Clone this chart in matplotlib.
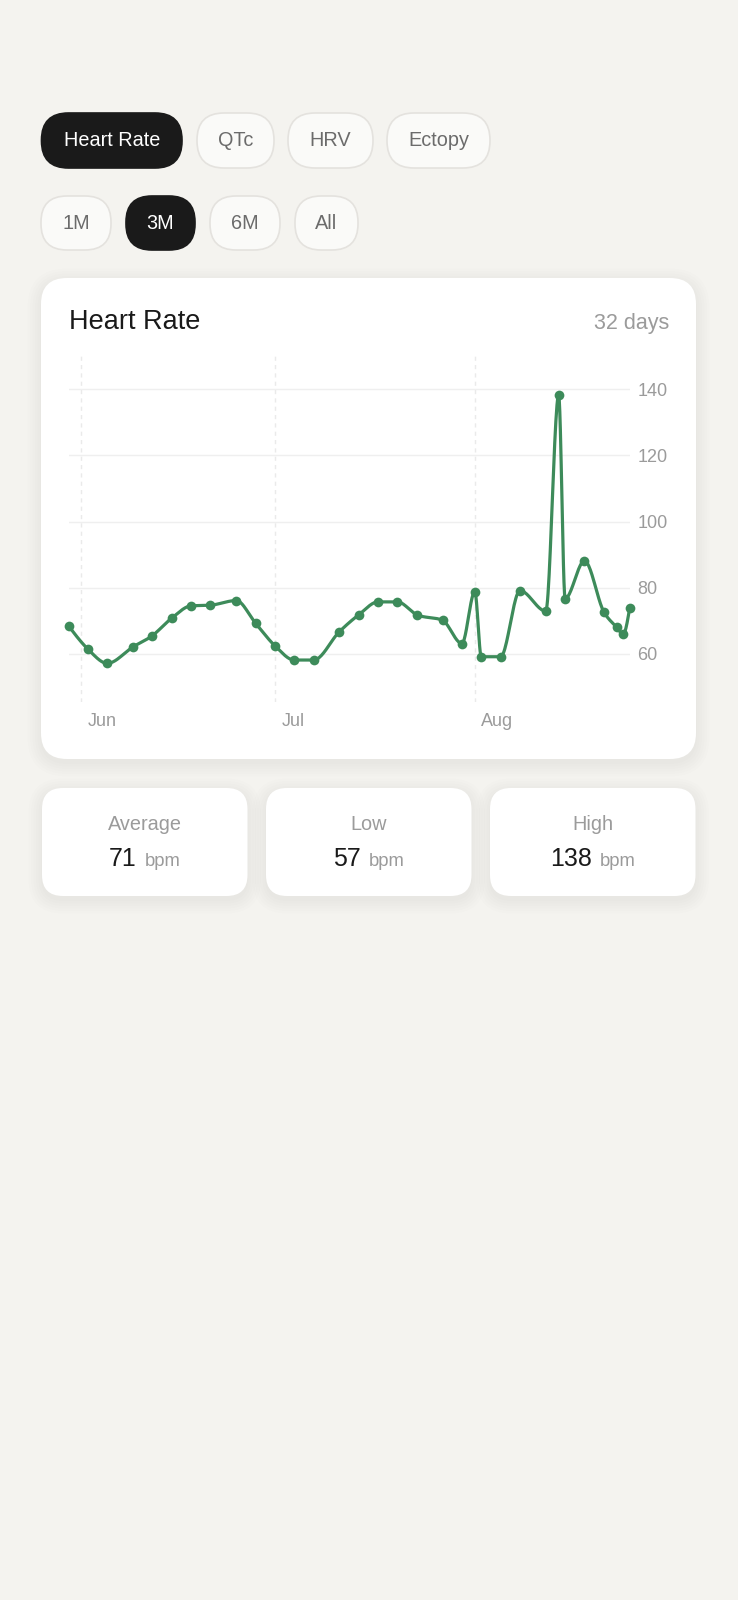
import numpy as np
import matplotlib
matplotlib.use("Agg")
import matplotlib.pyplot as plt
import matplotlib.dates as mdates
from matplotlib.patches import FancyBboxPatch

plt.rcParams['font.family'] = ['Liberation Sans', 'DejaVu Sans']

# data
dates = ["2024-05-30", "2024-06-02", "2024-06-05", "2024-06-09", "2024-06-12", "2024-06-15",
         "2024-06-18", "2024-06-21", "2024-06-25", "2024-06-28", "2024-07-01", "2024-07-04",
         "2024-07-07", "2024-07-11", "2024-07-14", "2024-07-17", "2024-07-20", "2024-07-23",
         "2024-07-27", "2024-07-30", "2024-08-01", "2024-08-02", "2024-08-05", "2024-08-08",
         "2024-08-12", "2024-08-14", "2024-08-15", "2024-08-18", "2024-08-21", "2024-08-23",
         "2024-08-24", "2024-08-25"]
heart_rate = [68.4, 61.4, 57.1, 62.1, 65.5, 70.8, 74.5, 74.7, 76.1, 69.2, 62.4, 58.1,
              58.1, 66.7, 71.8, 75.7, 75.7, 71.8, 70.1, 63.1, 78.8, 59.1, 59.1, 79.1,
              72.9, 138.3, 76.7, 88.1, 72.7, 68.0, 65.9, 73.7]
y_ticks = [60, 80, 100, 120, 140]
month_ticks = ["2024-06-01", "2024-07-01", "2024-08-01"]
month_labels = ["Jun", "Jul", "Aug"]
metric_tabs = ["Heart Rate", "QTc", "HRV", "Ectopy"]
range_tabs = ["1M", "3M", "6M", "All"]

BG = "#F4F3EF"
DARK = "#1A1A1A"
GREEN = "#3D8B5A"
GREY = "#9B9B9B"

W, H = 738, 1600
fig = plt.figure(figsize=(W / 100, H / 100), dpi=100, facecolor=BG)

# background axes in pixel coordinates
bg = fig.add_axes([0, 0, 1, 1])
bg.set_xlim(0, W)
bg.set_ylim(H, 0)
bg.axis("off")
bg.set_facecolor(BG)


def rbox(x0, y0, x1, y1, r, fc, ec="none", lw=0, z=1):
    p = FancyBboxPatch((x0, y0), x1 - x0, y1 - y0,
                       boxstyle="round,pad=0,rounding_size=%s" % r,
                       fc=fc, ec=ec, lw=lw, zorder=z)
    bg.add_patch(p)


def card(x0, y0, x1, y1, r):
    # soft shadow
    for i in range(6):
        e = 1 + 2.5 * i
        rbox(x0 - e, y0 - e + 4, x1 + e, y1 + e + 4, r + e, fc=(0, 0, 0, 0.006), z=1)
    rbox(x0, y0, x1, y1, r, fc="white", z=2)


# tab pills
tab_boxes = [(41.5, 182), (197, 274), (288, 373), (387, 490)]
for i, (name, (a, b)) in enumerate(zip(metric_tabs, tab_boxes)):
    active = i == 0
    rbox(a, 113, b, 168, 27, fc=DARK if active else "#FAFAF8",
         ec=DARK if active else "#E4E2DE", lw=1.2)
    bg.text((a + b) / 2, 141, name, ha="center", va="center", fontsize=14.3,
            color="white" if active else "#6B6B6B", zorder=5)

range_boxes = [(41, 111), (126, 195), (210, 280), (295, 358)]
for i, (name, (a, b)) in enumerate(zip(range_tabs, range_boxes)):
    active = i == 1
    rbox(a, 196, b, 250, 26, fc=DARK if active else "#FAFAF8",
         ec=DARK if active else "#E4E2DE", lw=1.2)
    bg.text((a + b) / 2, 223.5, name, ha="center", va="center", fontsize=14.3,
            color="white" if active else "#6B6B6B", zorder=5)

# chart card
card(41, 278, 696, 759, 26)
bg.text(69, 322, "Heart Rate", ha="left", va="center", fontsize=19.5, color=DARK, zorder=5)
bg.text(669, 324, "%d days" % len(heart_rate), ha="right", va="center", fontsize=15.5,
        color=GREY, zorder=5)

# chart axes
x = mdates.datestr2num(dates)
y = np.array(heart_rate)
ax_l, ax_r, ax_t, ax_b = 68.6, 629.6, 355, 702
ax = fig.add_axes([ax_l / W, 1 - ax_b / H, (ax_r - ax_l) / W, (ax_b - ax_t) / H])
ax.set_facecolor("none")
ax.set_xlim(x[0], x[-1])
ax.set_ylim(45.4, 150.4)
for s in ax.spines.values():
    s.set_visible(False)


def monotone_x(xs, ys, n=24):
    # d3 curveMonotoneX style cubic
    h = np.diff(xs)
    d = np.diff(ys) / h
    m = np.zeros(len(xs))
    for k in range(1, len(xs) - 1):
        s0, s1 = d[k - 1], d[k]
        p = (s0 * h[k] + s1 * h[k - 1]) / (h[k - 1] + h[k])
        m[k] = (np.sign(s0) + np.sign(s1)) * min(abs(s0), abs(s1), 0.5 * abs(p))
    m[0] = (3 * d[0] - m[1]) / 2
    m[-1] = (3 * d[-1] - m[-2]) / 2
    px, py = [], []
    for k in range(len(xs) - 1):
        t = np.linspace(0, 1, n)
        h00 = 2 * t**3 - 3 * t**2 + 1
        h10 = t**3 - 2 * t**2 + t
        h01 = -2 * t**3 + 3 * t**2
        h11 = t**3 - t**2
        px.append(xs[k] + t * h[k])
        py.append(h00 * ys[k] + h10 * h[k] * m[k] + h01 * ys[k + 1] + h11 * h[k] * m[k + 1])
    return np.concatenate(px), np.concatenate(py)


sx, sy = monotone_x(x, y)
ax.plot(sx, sy, color=GREEN, lw=2.3, solid_capstyle="round", solid_joinstyle="round",
        zorder=3, clip_on=False)
ax.plot(x, y, "o", color=GREEN, ms=7, mew=0, zorder=4, clip_on=False)

# grid
for v in y_ticks:
    ax.axhline(v, color="#EFEFEF", lw=1, zorder=1)
mt = mdates.datestr2num(month_ticks)
for m in mt:
    ax.axvline(m, color="#EAEAEA", lw=1, ls=(0, (3, 3)), zorder=1)

ax.yaxis.tick_right()
ax.set_yticks(y_ticks)
ax.set_yticklabels([str(v) for v in y_ticks])
ax.tick_params(axis="y", length=0, pad=5.5, labelsize=13, labelcolor=GREY)
ax.set_xticks([])
for m, lab in zip(mt, month_labels):
    ax.text(m + 1, -0.057, lab, transform=ax.get_xaxis_transform(), ha="left", va="center",
            fontsize=13, color=GREY)

# stat cards
stats = [("Average", round(float(np.mean(y)))), ("Low", round(float(np.min(y)))),
         ("High", round(float(np.max(y))))]
stat_boxes = [(42, 247.5), (266, 471.5), (490, 695.5)]
for (a, b) in stat_boxes:
    card(a, 788, b, 896, 21)

renderer = fig.canvas.get_renderer()
for (lab, val), (a, b) in zip(stats, stat_boxes):
    cx = (a + b) / 2
    bg.text(cx, 824, lab, ha="center", va="center", fontsize=14.3, color=GREY, zorder=5)
    t1 = bg.text(0, 866, str(val), ha="left", va="baseline", fontsize=18, color=DARK, zorder=5)
    t2 = bg.text(0, 866, "bpm", ha="left", va="baseline", fontsize=13.3, color=GREY, zorder=5)
    w1 = t1.get_window_extent(renderer).width
    w2 = t2.get_window_extent(renderer).width
    gap = 8
    x0 = cx - (w1 + gap + w2) / 2
    t1.set_x(x0)
    t2.set_x(x0 + w1 + gap)

fig.savefig("out.png", dpi=100, facecolor=BG)
